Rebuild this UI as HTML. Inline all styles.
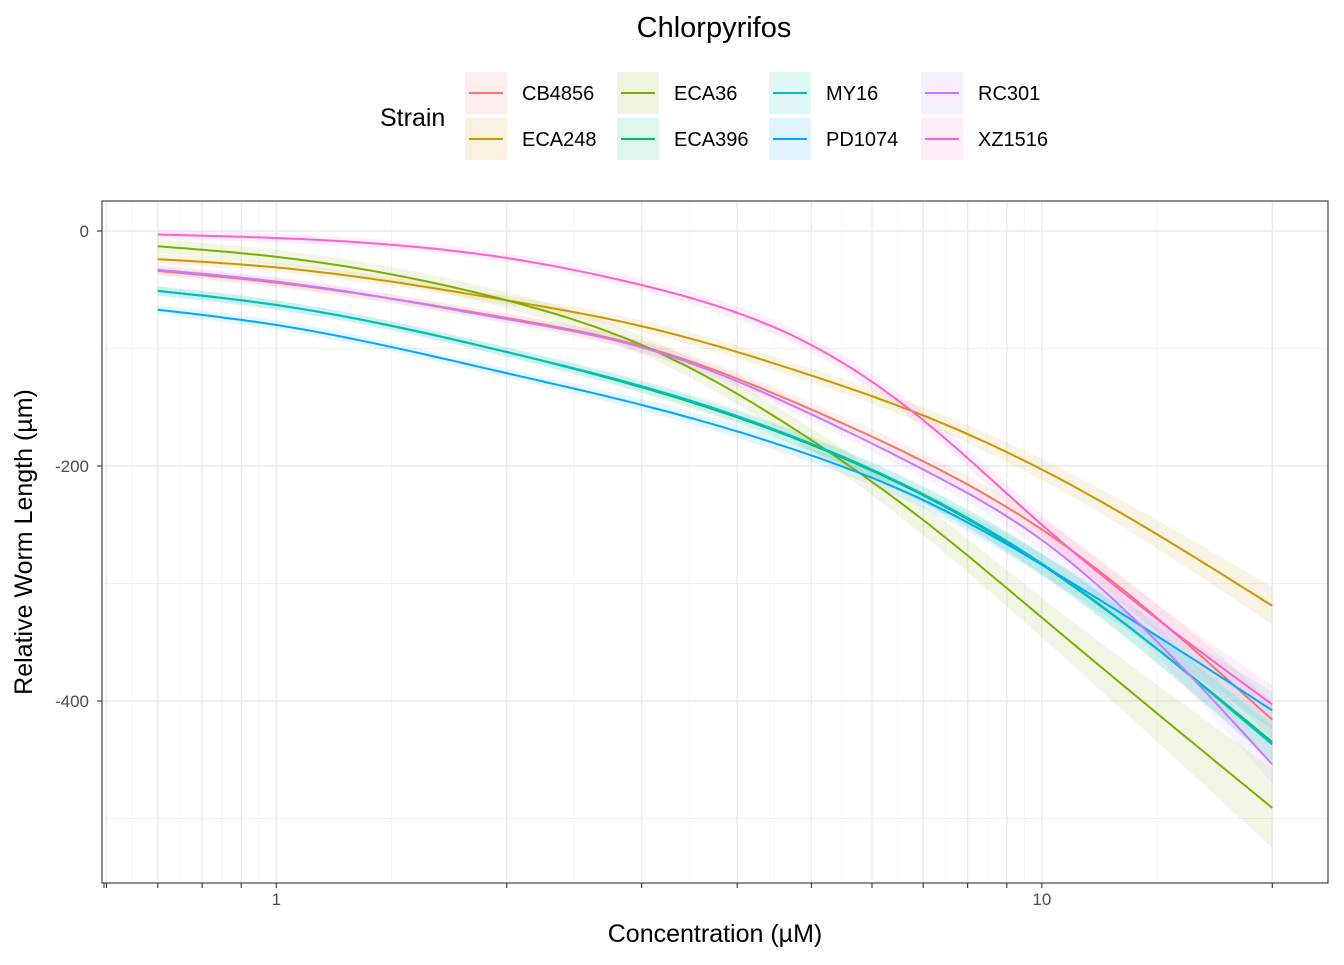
<!DOCTYPE html>
<html><head><meta charset="utf-8"><style>
body{margin:0;background:#fff;font-family:"Liberation Sans",Arial,sans-serif}
</style></head><body>
<svg id="chart" width="1344" height="960" xmlns="http://www.w3.org/2000/svg" font-family="Liberation Sans, Arial, sans-serif">
<text x="714" y="37" font-size="29" text-anchor="middle" fill="#000">Chlorpyrifos</text>
<g id="grid"></g>
<g id="ribbons"></g>
<g id="lines"></g>
<rect x="102" y="201" width="1226" height="682" fill="none" stroke="#333" stroke-width="1.1"/>
<g id="axes"></g>
<text x="715" y="942" font-size="25" text-anchor="middle">Concentration (µM)</text>
<text transform="translate(32,542) rotate(-90)" font-size="25" text-anchor="middle">Relative Worm Length (µm)</text>
<text x="380" y="126" font-size="25">Strain</text>
<g id="legend"></g>
</svg>
<script>
const strains = ["CB4856","ECA248","ECA36","ECA396","MY16","PD1074","RC301","XZ1516"];
const colors = ["#F8766D","#CD9600","#7CAE00","#00BE67","#00BFC4","#00A9FF","#C77CFF","#FF61CC"];
const conc = [0.7, 1, 2, 3, 5, 7, 10, 20];
const vCB4856 = [-34, -44, -74, -98, -152, -196, -254, -416];
const vECA248 = [-24, -31, -59, -81, -123, -157, -203, -319];
const vECA36  = [-13, -22, -59, -97, -178, -246, -329, -491];
const vECA396 = [-51, -63, -103, -133, -182, -225, -284, -435];
const vMY16   = [-51, -63, -103, -132, -181, -224, -283, -437];
const vPD1074 = [-67, -80, -121, -148, -191, -229, -284, -408];
const vRC301  = [-33, -43, -75, -99, -156, -203, -263, -454];
const vXZ1516 = [-3, -6, -23, -46, -97, -161, -250, -403];
const seAll   = [4, 4, 4, 5, 6, 7, 9, 16];
const seECA36 = [6, 6, 7, 8, 10, 13, 17, 34];
const yTicks = [0, -200, -400];
const yMinor = [-100, -300, -500];
const xLabels = [1, 10];
const xBreaks = [0.6,0.7,0.8,0.9,1,2,3,4,5,6,7,8,9,10,20];

const series = [vCB4856,vECA248,vECA36,vECA396,vMY16,vPD1074,vRC301,vXZ1516];
const ses = [seAll,seAll,seECA36,seAll,seAll,seAll,seAll,seAll];
const NS="http://www.w3.org/2000/svg";
const X0=102,X1=1328,Y0=201,Y1=883;
const lmin=Math.log10(0.7)-0.0728, lmax=Math.log10(20)+0.0728;
const xs=v=>X0+(Math.log10(v)-lmin)/(lmax-lmin)*(X1-X0);
const ys=v=>231-v*1.175;
function mk(tag,attrs,parent){const e=document.createElementNS(NS,tag);for(const k in attrs)e.setAttribute(k,attrs[k]);parent.appendChild(e);return e;}
const grid=document.getElementById('grid'),axes=document.getElementById('axes');
mk('rect',{x:X0,y:Y0,width:X1-X0,height:Y1-Y0,fill:'#fff'},grid);
for(let i=0;i<xBreaks.length-1;i++){const m=Math.sqrt(xBreaks[i]*xBreaks[i+1]);const x=xs(m);
 const l=mk('line',{x1:x,x2:x,y1:Y0,y2:Y1,stroke:'#F2F2F2','stroke-width':0.7},grid);
 }
yMinor.forEach(v=>{const l=mk('line',{x1:X0,x2:X1,y1:ys(v),y2:ys(v),stroke:'#F0F0F0','stroke-width':1},grid);
 });
xBreaks.forEach(b=>{const x=xs(b);if(x<X0)return;
 const l=mk('line',{x1:x,x2:x,y1:Y0,y2:Y1,stroke:'#EBEBEB','stroke-width':1.4},grid);
 
 const t=mk('line',{x1:x,x2:x,y1:Y1,y2:Y1+5,stroke:'#333','stroke-width':1.1},axes);
 });
mk('line',{x1:104,x2:104,y1:Y1,y2:Y1+5,stroke:'#333','stroke-width':1.1},axes);
xLabels.forEach(b=>{const t=mk('text',{x:xs(b),y:Y1+22,'font-size':17,'text-anchor':'middle',fill:'#4D4D4D'},axes);t.textContent=b;
 });
yTicks.forEach(v=>{const y=ys(v);
 const l=mk('line',{x1:X0,x2:X1,y1:y,y2:y,stroke:'#EBEBEB','stroke-width':1.4},grid);
 
 mk('line',{x1:X0-5,x2:X0,y1:y,y2:y,stroke:'#333','stroke-width':1.1},axes);
 const t=mk('text',{x:X0-13,y:y+6,'font-size':17,'text-anchor':'end',fill:'#4D4D4D'},axes);t.textContent=v;
 });
function spline(xv,yv){const n=xv.length,h=[],al=[],l=[1],mu=[0],z=[0],c=new Array(n).fill(0),b=[],d=[];
 for(let i=0;i<n-1;i++)h.push(xv[i+1]-xv[i]);
 for(let i=1;i<n-1;i++)al[i]=3/h[i]*(yv[i+1]-yv[i])-3/h[i-1]*(yv[i]-yv[i-1]);
 for(let i=1;i<n-1;i++){l[i]=2*(xv[i+1]-xv[i-1])-h[i-1]*mu[i-1];mu[i]=h[i]/l[i];z[i]=(al[i]-h[i-1]*z[i-1])/l[i];}
 for(let j=n-2;j>=0;j--){c[j]=(j>0?z[j]:0)-mu[j]*c[j+1];b[j]=(yv[j+1]-yv[j])/h[j]-h[j]*(c[j+1]+2*c[j])/3;d[j]=(c[j+1]-c[j])/(3*h[j]);}
 return t=>{let j=0;while(j<n-2&&t>xv[j+1])j++;const dx=t-xv[j];return yv[j]+b[j]*dx+c[j]*dx*dx+d[j]*dx*dx*dx;};}
const lx=conc.map(c=>Math.log10(c));
function sample(vals){const f=spline(lx,vals),pts=[];const a=lx[0],bb=lx[lx.length-1];
 for(let k=0;k<=120;k++){const t=a+(bb-a)*k/120;pts.push([X0+(t-lmin)/(lmax-lmin)*(X1-X0),ys(f(t))]);}return pts;}
const toD=pts=>pts.map((p,i)=>(i?'L':'M')+p[0].toFixed(1)+','+p[1].toFixed(1)).join(' ');
const rib=document.getElementById('ribbons'),lin=document.getElementById('lines');
series.forEach((vals,i)=>{
 const up=sample(vals.map((v,j)=>v+ses[i][j]));
 const lo=sample(vals.map((v,j)=>v-ses[i][j])).reverse();
 const d=toD(up.concat(lo))+' Z';
 const r=mk('path',{d:d,fill:colors[i],'fill-opacity':0.1,stroke:'none'},rib);
 
 const p=mk('path',{d:toD(sample(vals)),fill:'none',stroke:colors[i],'stroke-width':2},lin);
 
});
const leg=document.getElementById('legend');
strains.forEach((s,i)=>{const col=Math.floor(i/2),row=i%2;const x=465+col*152,y=72+row*46;
 const g=mk('g',{},leg);
 
 mk('rect',{x:x,y:y,width:42,height:42,fill:colors[i],'fill-opacity':0.12},g);
 mk('line',{x1:x+4,x2:x+38,y1:y+21,y2:y+21,stroke:colors[i],'stroke-width':2},g);
 const t=mk('text',{x:x+57,y:y+28,'font-size':20},g);t.textContent=s;});
</script>
</body></html>
